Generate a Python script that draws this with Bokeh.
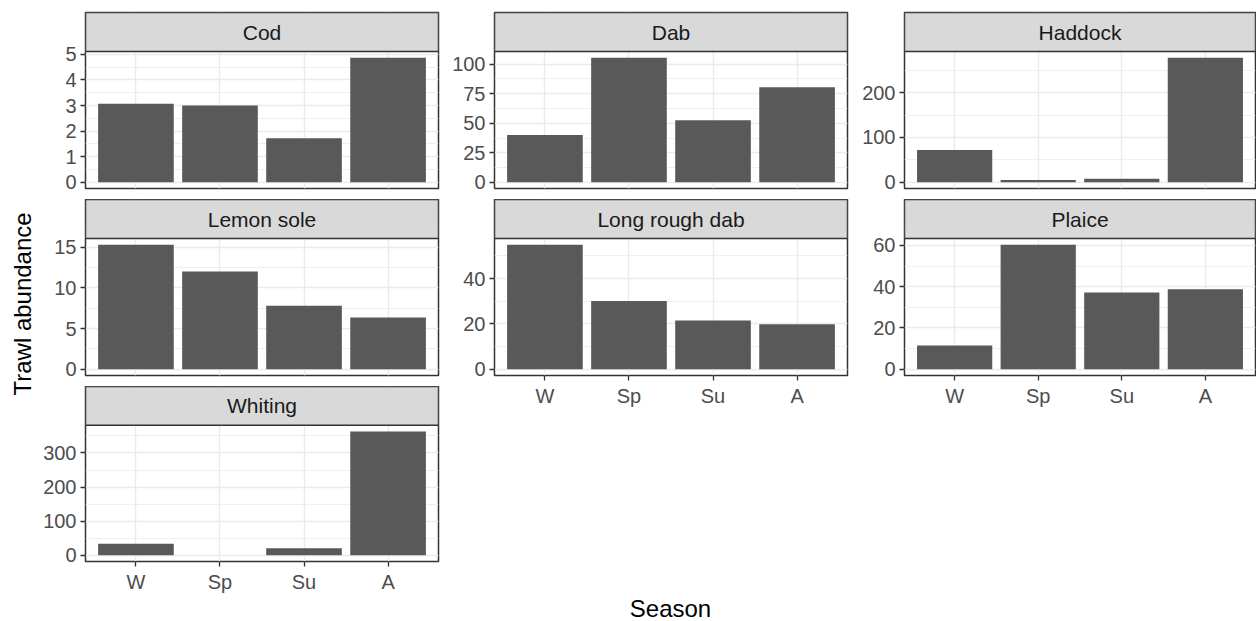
import math
from bokeh.plotting import figure
from bokeh.layouts import row, column
from bokeh.models import FactorRange, Range1d, FixedTicker, BoxAnnotation
from bokeh.core.properties import value
from bokeh.embed import file_html
from bokeh.resources import INLINE

# ---- data -------------------------------------------------------------
seasons = ["W", "Sp", "Su", "A"]

cod = [3.07, 3.0, 1.72, 4.87]
dab = [40.0, 105.5, 52.5, 80.5]
haddock = [72.0, 5.0, 8.0, 278.0]
lemon_sole = [15.3, 12.0, 7.8, 6.35]
long_rough_dab = [54.9, 30.1, 21.5, 19.9]
plaice = [11.5, 60.3, 37.2, 38.7]
whiting = [34.0, 0.0, 21.0, 363.0]

cod_ticks = [0, 1, 2, 3, 4, 5]
dab_ticks = [0, 25, 50, 75, 100]
haddock_ticks = [0, 100, 200]
lemon_sole_ticks = [0, 5, 10, 15]
long_rough_dab_ticks = [0, 20, 40]
plaice_ticks = [0, 20, 40, 60]
whiting_ticks = [0, 100, 200, 300]

x_title = "Season"
y_title = "Trawl abundance"

# ---- styling ----------------------------------------------------------
FONT = "Liberation Sans"
BAR = "#595959"
GRID = "#EBEBEB"
BORDER = "#333333"
STRIP = "#D9D9D9"
TICK_TXT = "#4D4D4D"

LABEL_W = 40
COLS = [  # (figure width, left border, right border)
    (400, 45, 2),
    (410, 54, 3),
    (406, 54, 1),
]
FRAME_H = 137   # data area
STRIP_H = 39    # facet header
TOP_PAD = 12
GAP = 11
AXIS_B = 33


def panel(title, values, ticks, col, top_pad, bottom, show_x):
    w, bl, br = COLS[col]
    hi = max(values)
    pad = 0.05 * hi
    lo, top = -pad, hi + pad
    full = STRIP_H + FRAME_H
    # the frame also hosts the facet header above the data area
    y_end = lo + (top - lo) * full / FRAME_H
    p = figure(width=w, height=top_pad + full + bottom,
               x_range=FactorRange(*seasons, range_padding=0.1, range_padding_units="absolute"),
               y_range=Range1d(lo, y_end), x_axis_location="below" if show_x else None,
               toolbar_location=None, output_backend="svg",
               min_border_left=bl, min_border_right=br,
               min_border_top=top_pad, min_border_bottom=bottom)
    p.background_fill_color = "white"
    p.border_fill_color = "white"
    p.outline_line_color = BORDER
    p.outline_line_width = 1.5
    p.extra_y_ranges = {"strip": Range1d(0, full)}

    step = ticks[1] - ticks[0]
    minors = [t + step / 2 for t in ticks]
    p.yaxis.ticker = FixedTicker(ticks=ticks, minor_ticks=minors)
    p.ygrid.ticker = FixedTicker(ticks=ticks, minor_ticks=minors)
    p.ygrid.grid_line_color = GRID
    p.ygrid.grid_line_width = 1.4
    p.ygrid.minor_grid_line_color = GRID
    p.ygrid.minor_grid_line_width = 0.8
    p.xgrid.grid_line_color = GRID
    p.xgrid.grid_line_width = 1.4

    p.vbar(x=seasons, top=values, bottom=0, width=0.9, fill_color=BAR, line_color=None)

    # facet header band across the full frame width
    p.add_layout(BoxAnnotation(bottom=FRAME_H, top=full, y_range_name="strip",
                               fill_color=STRIP, fill_alpha=1.0,
                               line_color=BORDER, line_width=1.5, line_alpha=1.0))
    p.text(x=[len(seasons) / 2], y=[FRAME_H + STRIP_H / 2], text=[title],
           y_range_name="strip", text_align="center", text_baseline="middle",
           text_font=value(FONT), text_font_size="21px", text_color="#1A1A1A", level="overlay")

    for ax in p.xaxis + p.yaxis:
        ax.axis_line_color = None
        ax.major_tick_line_color = BORDER
        ax.major_tick_line_width = 1.3
        ax.major_tick_in = 0
        ax.major_tick_out = 5
        ax.minor_tick_line_color = None
        ax.major_label_text_font = FONT
        ax.major_label_text_font_size = "20px"
        ax.major_label_text_color = TICK_TXT
        ax.major_label_standoff = 4
    return p


col1 = column(
    panel("Cod", cod, cod_ticks, 0, TOP_PAD, GAP, False),
    panel("Lemon sole", lemon_sole, lemon_sole_ticks, 0, 0, GAP, False),
    panel("Whiting", whiting, whiting_ticks, 0, 0, AXIS_B, True),
    spacing=0,
)

low_bottom = AXIS_B + STRIP_H + FRAME_H + GAP
col2 = column(
    panel("Dab", dab, dab_ticks, 1, TOP_PAD, GAP, False),
    panel("Long rough dab", long_rough_dab, long_rough_dab_ticks, 1, 0, low_bottom, True),
    spacing=0,
)

col3 = column(
    panel("Haddock", haddock, haddock_ticks, 2, TOP_PAD, GAP, False),
    panel("Plaice", plaice, plaice_ticks, 2, 0, low_bottom, True),
    spacing=0,
)

body_h = TOP_PAD + 3 * (STRIP_H + FRAME_H) + 2 * GAP + AXIS_B


def blank(width, height, **borders):
    b = figure(width=width, height=height, x_range=Range1d(0, 1), y_range=Range1d(0, 1),
               x_axis_location=None, y_axis_location=None, toolbar_location=None,
               output_backend="svg", **borders)
    b.grid.visible = False
    b.outline_line_color = None
    return b


ylab = blank(LABEL_W, body_h, min_border=0)
ylab.text(x=[0.55], y=[0.49], text=[y_title], angle=math.pi / 2, text_align="center",
          text_baseline="middle", text_font=value(FONT), text_font_size="24px", text_color="black")

xlab = blank(LABEL_W + sum(c[0] for c in COLS), 621 - body_h,
             min_border_left=85, min_border_right=1, min_border_top=0, min_border_bottom=0)
xlab.text(x=[0.5], y=[0.5], text=[x_title], text_align="center", text_baseline="middle",
          text_font=value(FONT), text_font_size="24px", text_color="black")

layout = column(row(ylab, col1, col2, col3, spacing=0), xlab, spacing=0)

open("out.html", "w").write(file_html(layout, INLINE))
